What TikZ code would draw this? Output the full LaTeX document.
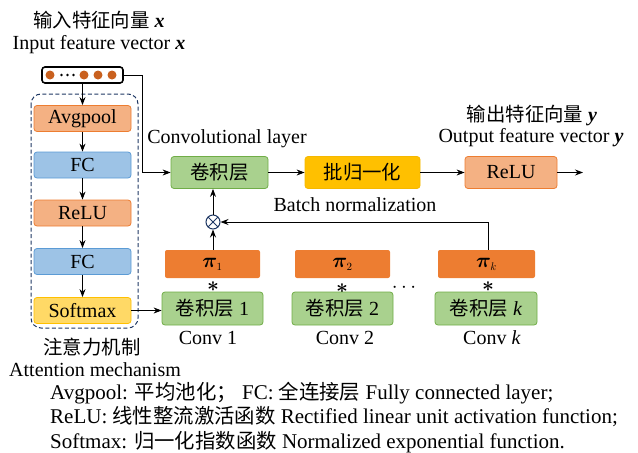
\documentclass[tikz,border=0pt]{standalone}
\usepackage{fontspec}
\setmainfont{Liberation Serif}
\newfontfamily\cjk{Noto Sans CJK SC}[Scale=0.97]
\usepackage{bm}
\usetikzlibrary{arrows.meta,calc}
\definecolor{dotor}{HTML}{C9601E}
\definecolor{navy}{HTML}{1F3864}
\definecolor{salfill}{HTML}{F4B183}
\definecolor{saldraw}{HTML}{ED7D31}
\definecolor{blufill}{HTML}{9DC3E6}
\definecolor{bludraw}{HTML}{5B9BD5}
\definecolor{yelfill}{HTML}{FFD966}
\definecolor{yeldraw}{HTML}{FFC000}
\definecolor{grnfill}{HTML}{A9D18E}
\definecolor{grndraw}{HTML}{70AD47}
\definecolor{bnfill}{HTML}{FFC000}
\definecolor{bndraw}{HTML}{F5B800}
\definecolor{pifill}{HTML}{ED7D31}
\begin{document}
\begin{tikzpicture}[x=1pt,y=-1pt,font=\fontsize{20}{24}\selectfont,
  box/.style={draw, rounded corners=3pt, inner sep=0pt, line width=0.8pt},
  attbox/.style={box, minimum width=97pt, minimum height=26pt},
  mainbox/.style={box, minimum height=32pt},
  pibox/.style={rounded corners=2pt, fill=pifill, inner sep=0pt, minimum height=28pt},
  pitext/.style={inner sep=0pt, anchor=center, font=\fontsize{21}{21}\selectfont},
  convbox/.style={box, draw=grndraw, fill=grnfill, minimum height=33pt},
  arr/.style={-{Stealth[length=8pt,width=6pt]}, line width=0.9pt},
  ln/.style={line width=0.9pt},
  lbl/.style={inner sep=0pt, anchor=center},
  legend/.style={inner sep=0pt, anchor=base west, font=\fontsize{21}{25}\selectfont},
  star/.style={inner sep=0pt, anchor=center, font=\fontsize{20}{20}\selectfont}]
\useasboundingbox (0,0) rectangle (638,453);

% titles
\node[lbl] (tin1) at (99,20) {{\cjk 输入特征向量} \textbf{\textit{x}}};
\node[lbl] (tin2) at (99,45) {Input feature vector \textbf{\textit{x}}};

% input vector
\node[draw, line width=1.6pt, rounded corners=3pt, minimum width=81pt, minimum height=16pt, inner sep=0pt] (inp) at (82.5,75) {};
\foreach \xx in {50,84,98,112}
  \fill[dotor] (\xx,75) circle (4.5pt);
\foreach \xx in {61.5,67.5,73.5}
  \fill[black] (\xx,75) circle (1.3pt);

% attention box
\draw[navy, line width=1pt, rounded corners=10pt, dash pattern=on 4pt off 2.5pt] (31,94) rectangle (138,328);
\node[attbox, draw=saldraw, fill=salfill] (avg) at (82.5,118.5) {Avgpool};
\node[attbox, draw=bludraw, fill=blufill] (fc1) at (82.5,165) {FC};
\node[attbox, draw=saldraw, fill=salfill] (relu1) at (82.5,213) {ReLU};
\node[attbox, draw=bludraw, fill=blufill] (fc2) at (82.5,261.5) {FC};
\node[attbox, draw=yeldraw, fill=yelfill] (soft) at (82.5,310.5) {Softmax};
\draw[arr] (inp.south) -- (avg.north);
\draw[arr] (avg) -- (fc1);
\draw[arr] (fc1) -- (relu1);
\draw[arr] (relu1) -- (fc2);
\draw[arr] (fc2) -- (soft);
\node[lbl] (att1) at (92,347) {\cjk 注意力机制};
\node[lbl, anchor=west] (att2) at (9,370) {Attention mechanism};

% main row
\node[mainbox, draw=grndraw, fill=grnfill, minimum width=97pt] (conv) at (219.5,172.5) {\cjk 卷积层};
\node[mainbox, draw=bndraw, fill=bnfill, minimum width=115pt] (bn) at (362.5,172.5) {\cjk 批归一化};
\node[mainbox, draw=saldraw, fill=salfill, minimum width=92pt] (relu2) at (511,172.5) {ReLU};
\coordinate (outp) at (583,172.5);
\coordinate (bend) at (142,75);
\draw[arr] (inp.east) -- (bend) |- (conv.west);
\draw[arr] (conv) -- (bn);
\draw[arr] (bn) -- (relu2);
\draw[arr] (relu2) -- (outp);
\node[lbl] (cl) at (227,139) {Convolutional layer};
\node[lbl] (bnl) at (355,205) {Batch normalization};
\node[lbl] (out1) at (532,115) {{\cjk 输出特征向量} \textbf{\textit{y}}};
\node[lbl] (out2) at (531,138) {Output feature vector \textbf{\textit{y}}};

% multiplication
\node[draw=navy, fill=white, circle, line width=1pt, minimum size=14pt, inner sep=0pt] (mul) at (213,222) {};
\draw[navy, line width=1pt] ($(mul.center)+(-4.9,-4.9)$) -- ($(mul.center)+(4.9,4.9)$);
\draw[navy, line width=1pt] ($(mul.center)+(-4.9,4.9)$) -- ($(mul.center)+(4.9,-4.9)$);

% pi boxes
\node[pibox, minimum width=95pt] (pi1) at (212.5,264) {};
\node[pibox, minimum width=95pt] (pi2) at (342.5,264) {};
\node[pibox, minimum width=97pt] (pik) at (486.5,264) {};
\node[pitext] (pt1) at (pi1.center) {$\bm{\pi}_{\scriptscriptstyle 1}$};
\node[pitext] (pt2) at (pi2.center) {$\bm{\pi}_{\scriptscriptstyle 2}$};
\node[pitext] (ptk) at (pik.center) {$\bm{\pi}_{\scriptscriptstyle k}$};
\draw[arr] (pi1.north -| mul) -- (mul.south);
\draw[arr] (mul.north) -- (mul.north |- conv.south);
\draw[ln] ($(pi2.north)+(1.5,0)$) -- ($(pi2.north)+(1.5,0)$ |- mul.east);
\draw[arr] ($(pik.north)+(1.5,0)$) |- (mul.east);

% asterisks
\node[star] (s1) at (213,286.5) {$\bm{\ast}$};
\node[star] (s2) at (342,288.5) {$\bm{\ast}$};
\node[star] (s3) at (488,286.5) {$\bm{\ast}$};
\node[lbl] (dots) at (404,288) {$\cdots$};

% conv boxes
\node[convbox, minimum width=101pt] (c1) at (212.5,308.5) {{\cjk 卷积层} 1};
\node[convbox, minimum width=101pt] (c2) at (342.5,308.5) {{\cjk 卷积层} 2};
\node[convbox, minimum width=102pt] (ck) at (486,308.5) {{\cjk 卷积层} \textit{k}};
\draw[arr] (soft.east) -- (soft.east -| c1.west);
\node[lbl] (cv1) at (208,338) {Conv 1};
\node[lbl] (cv2) at (345,338) {Conv 2};
\node[lbl] (cvk) at (492,338) {Conv \textit{k}};

% legend
\node[legend] (lg1) at (50,399) {Avgpool: {\cjk 平均池化；} FC: {\cjk 全连接层} Fully connected layer;};
\node[legend] (lg2) at (50,423.5) {ReLU: {\cjk 线性整流激活函数} Rectified linear unit activation function;};
\node[legend] (lg3) at (50,448) {Softmax: {\cjk 归一化指数函数} Normalized exponential function.};
\end{tikzpicture}
\end{document}
